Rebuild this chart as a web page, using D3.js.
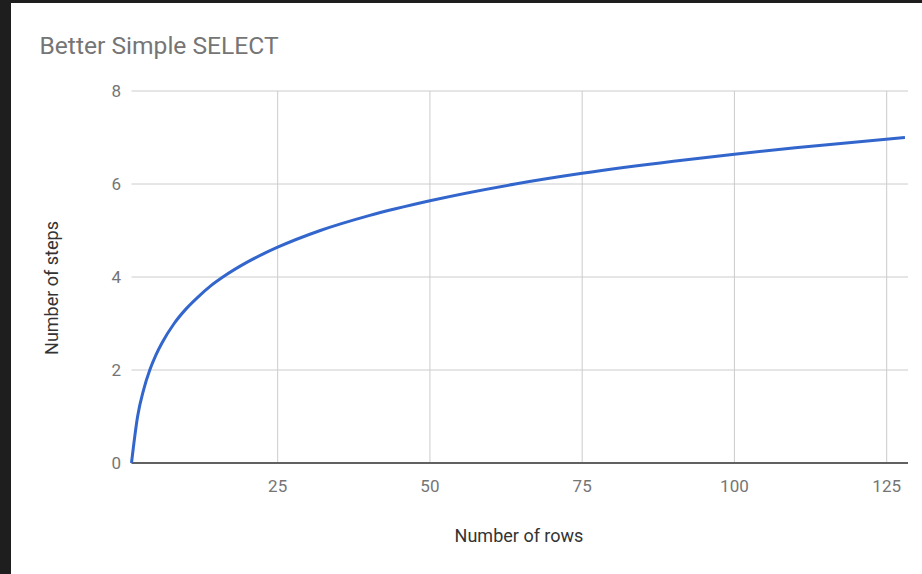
<!DOCTYPE html>
<html>
<head>
<meta charset="utf-8">
<script src="https://cdn.jsdelivr.net/npm/d3@7"></script>
<style>
  html, body { margin: 0; padding: 0; background: #1e1e1e; }
  svg { display: block; }
  text { font-family: Roboto, "Noto Sans", sans-serif; }
</style>
</head>
<body>
<svg id="chart" width="922" height="574"></svg>
<script>
// Rows searched vs. steps taken
const rows  = [1, 2, 3, 4, 5, 6, 8, 10, 12, 14, 16, 20, 25, 32, 40, 50, 64, 75, 90, 100, 110, 128];
const steps = [0, 1, 1.58, 2, 2.32, 2.58, 3, 3.32, 3.58, 3.81, 4, 4.32, 4.64, 5, 5.32, 5.64, 6, 6.23, 6.49, 6.64, 6.78, 7];
const xTicks = [25, 50, 75, 100, 125];
const yTicks = [0, 2, 4, 6, 8];

const svg = d3.select("#chart");

// white card inside the dark frame
svg.append("rect").attr("x", 11).attr("y", 3).attr("width", 911).attr("height", 571).attr("fill", "#fff");

const x = d3.scaleLinear().domain([1, 128.5]).range([131.5, 908]);
const y = d3.scaleLinear().domain([0, 8]).range([463, 91]);

// horizontal gridlines
svg.append("g").selectAll("line").data(yTicks.filter(d => d > 0)).join("line")
  .attr("x1", x.range()[0]).attr("x2", x.range()[1])
  .attr("y1", d => y(d)).attr("y2", d => y(d))
  .attr("stroke", "#cccccc").attr("stroke-width", 1);

// vertical gridlines
svg.append("g").selectAll("line").data(xTicks).join("line")
  .attr("x1", d => x(d)).attr("x2", d => x(d))
  .attr("y1", y(8)).attr("y2", y(0))
  .attr("stroke", "#cccccc").attr("stroke-width", 1);

// y tick labels
svg.append("g").selectAll("text").data(yTicks).join("text")
  .attr("x", 121).attr("y", d => y(d)).attr("dy", "0.35em")
  .attr("text-anchor", "end").attr("font-size", 17).attr("fill", "#757575")
  .text(d => d);

// x tick labels
svg.append("g").selectAll("text").data(xTicks).join("text")
  .attr("x", d => x(d)).attr("y", 492)
  .attr("text-anchor", "middle").attr("font-size", 17).attr("fill", "#757575")
  .text(d => d);

// baseline
svg.append("line")
  .attr("x1", x.range()[0]).attr("x2", x.range()[1])
  .attr("y1", y(0)).attr("y2", y(0))
  .attr("stroke", "#616161").attr("stroke-width", 2);

// the series line
const line = d3.line().x((d, i) => x(rows[i])).y(d => y(d)).curve(d3.curveMonotoneX);
svg.append("path").datum(steps)
  .attr("d", line)
  .attr("fill", "none").attr("stroke", "#3366cc").attr("stroke-width", 3)
  .attr("stroke-linejoin", "round");

// title
svg.append("text").attr("x", 39.5).attr("y", 54)
  .attr("font-size", 24.6).attr("fill", "#757575")
  .text("Better Simple SELECT");

// axis titles
svg.append("text").attr("x", 519).attr("y", 542)
  .attr("text-anchor", "middle").attr("font-size", 18).attr("fill", "#333")
  .text("Number of rows");

svg.append("text")
  .attr("transform", "translate(58,288) rotate(-90)")
  .attr("text-anchor", "middle").attr("font-size", 18).attr("fill", "#333")
  .text("Number of steps");
</script>
</body>
</html>
